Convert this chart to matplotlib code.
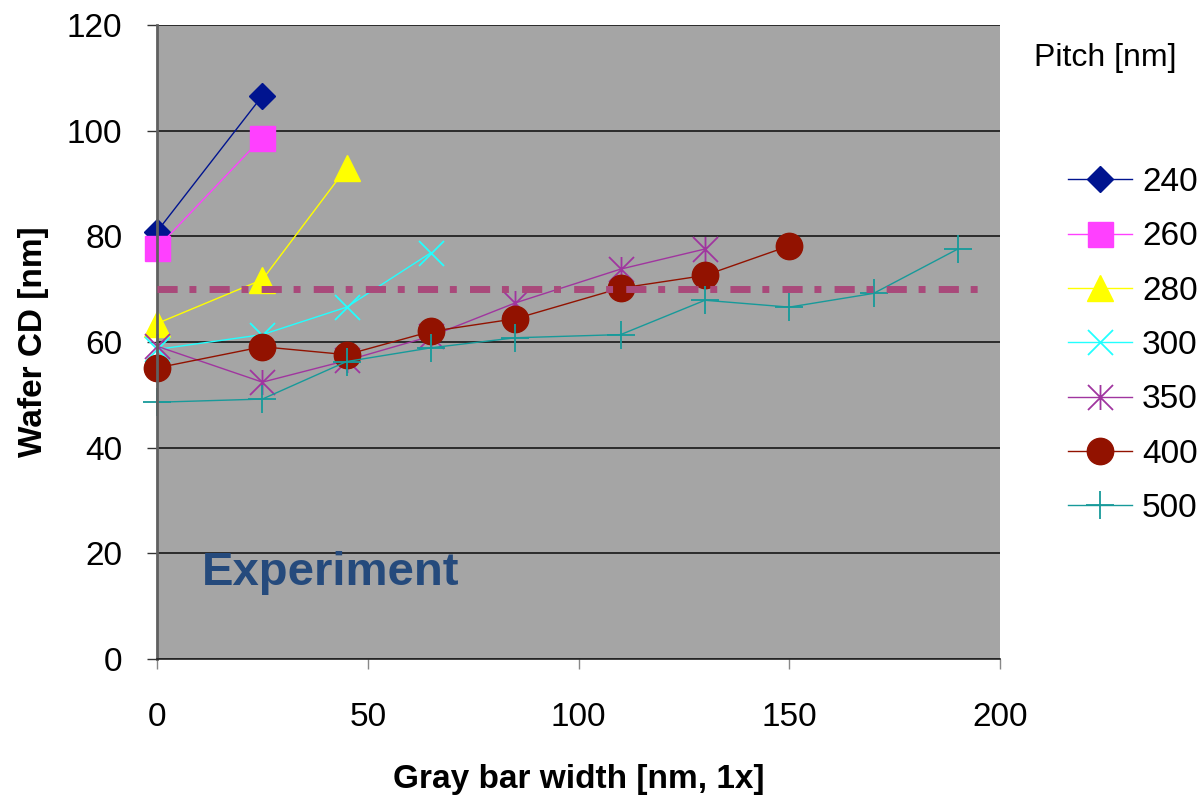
import matplotlib.pyplot as plt
import numpy as np
from matplotlib.path import Path

plt.rcParams['font.family'] = ['Liberation Sans', 'DejaVu Sans']

# gray bar width [nm, 1x] and wafer CD [nm] for each pitch
x_240 = [0, 25]
cd_240 = [80.9, 106.6]
x_260 = [0, 25]
cd_260 = [77.8, 98.7]
x_280 = [0, 25, 45]
cd_280 = [63.5, 71.8, 93.0]
x_300 = [0, 25, 45, 65]
cd_300 = [58.6, 61.4, 66.6, 76.9]
x_350 = [0, 25, 45, 65, 85, 110, 130]
cd_350 = [59.2, 52.4, 56.5, 61.1, 67.4, 73.8, 77.6]
x_400 = [0, 25, 45, 65, 85, 110, 130, 150]
cd_400 = [55.1, 59.1, 57.6, 62.0, 64.4, 70.2, 72.6, 78.2]
x_500 = [0, 25, 45, 65, 85, 110, 130, 150, 170, 190]
cd_500 = [48.6, 49.2, 56.3, 58.9, 60.8, 61.4, 67.9, 66.6, 69.2, 77.6]

target_cd = 70
target_x = [0, 197]

pitches = ['240', '260', '280', '300', '350', '400', '500']

# excel style star: an x with a vertical bar through it
star = Path([(-1, -1), (1, 1), (-1, 1), (1, -1), (0, -1), (0, 1)],
            [Path.MOVETO, Path.LINETO, Path.MOVETO, Path.LINETO, Path.MOVETO, Path.LINETO])

series = [
    (x_240, cd_240, '#00148F', 'D', 13.5, 1.0),
    (x_260, cd_260, '#FF40FF', 's', 18, 1.0),
    (x_280, cd_280, '#FFFF00', '^', 19, 1.0),
    (x_300, cd_300, '#22FFFF', 'x', 18, 1.3),
    (x_350, cd_350, '#A0359F', star, 18, 1.3),
    (x_400, cd_400, '#921200', 'o', 19, 1.0),
    (x_500, cd_500, '#179A9A', '+', 20, 1.3),
]

fig = plt.figure(figsize=(12.04, 7.96), dpi=100)
ax = fig.add_axes([157/1204, 1 - 659/796, 843/1204, 634/796])
ax.set_facecolor('#A5A5A5')

for (xs, ys, col, mk, ms, mew), name in zip(series, pitches):
    ax.plot(xs, ys, color=col, lw=1.0, marker=mk, markersize=ms,
            markerfacecolor=col, markeredgecolor=col, markeredgewidth=mew,
            label=name, clip_on=False)

ax.plot(target_x, [target_cd, target_cd], color='#A9497A', lw=5,
        linestyle=(0, (2.9, 1.7, 1.0, 1.9)), solid_capstyle='butt', zorder=5)

ax.text(10.7, 14.1, 'Experiment', fontsize=34, fontweight='bold', color='#254A7C')

ax.set_xlim(0, 200)
ax.set_ylim(0, 120)
ax.set_xticks(np.arange(0, 201, 50))
ax.set_yticks(np.arange(0, 121, 20))
ax.yaxis.grid(True, color='#222222', lw=1.3)
ax.set_axisbelow(True)

for s in ['top', 'right']:
    ax.spines[s].set_visible(False)
ax.spines['left'].set_color('#606060')
ax.spines['left'].set_linewidth(2)
ax.spines['bottom'].set_color('#222222')
ax.spines['bottom'].set_linewidth(1.2)

ax.tick_params(axis='y', length=7, width=1, color='#333333', pad=18, labelsize=24)
ax.tick_params(axis='x', length=7, width=1, color='#888888', pad=24, labelsize=24)

ax.set_xlabel('Gray bar width [nm, 1x]', fontsize=24, fontweight='bold', labelpad=22)
ax.set_ylabel('Wafer CD [nm]', fontsize=24, fontweight='bold', labelpad=13)

ax.legend(loc='upper left', bbox_to_anchor=(1068/1204, 1 - 167/796),
          bbox_transform=fig.transFigure, frameon=False, fontsize=24,
          handlelength=1.92, handletextpad=0.3, labelspacing=0.70,
          borderpad=0, borderaxespad=0)
fig.text(1105/1204, 1 - 58/796, 'Pitch [nm]', fontsize=23, ha='center', va='center')

fig.savefig('out.png', dpi=100)
